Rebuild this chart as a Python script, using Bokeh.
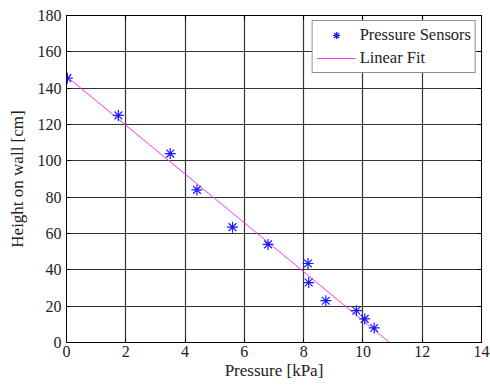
from bokeh.plotting import figure
from bokeh.models import Range1d, FixedTicker, LinearAxis, Legend, LegendItem
from bokeh.embed import file_html
from bokeh.resources import INLINE

# Data
pressure_kpa = [0.03, 1.75, 3.5, 4.4, 5.6, 6.8, 8.15, 8.17, 8.75, 9.78, 10.06, 10.38]
height_cm = [145.5, 125, 104, 84, 63.5, 54, 43.5, 33, 23, 17.5, 13, 8]
fit_x = [0.0, 10.9]
fit_y = [146.5, 0.0]
x_ticks = [0, 2, 4, 6, 8, 10, 12, 14]
y_ticks = [0, 20, 40, 60, 80, 100, 120, 140, 160, 180]

FONT = "'Liberation Serif', 'Times New Roman', serif"

p = figure(width=490, height=385, output_backend="svg", toolbar_location=None,
           x_range=Range1d(0, 14), y_range=Range1d(0, 180),
           min_border_left=66, min_border_right=9, min_border_top=15, min_border_bottom=43)
p.background_fill_color = "white"
p.border_fill_color = "white"
p.outline_line_color = "black"
p.outline_line_width = 1

for ax in (p.xaxis[0], p.yaxis[0]):
    ax.major_tick_in = 4
    ax.major_tick_out = 0
    ax.minor_tick_in = 0
    ax.minor_tick_out = 0
    ax.axis_line_color = "black"
    ax.major_label_text_font = FONT
    ax.major_label_text_font_size = "16px"
    ax.major_label_text_color = "#222222"
    ax.axis_label_text_font = FONT
    ax.axis_label_text_font_size = "17px"
    ax.axis_label_text_font_style = "normal"
    ax.axis_label_text_color = "#222222"

p.xaxis[0].ticker = FixedTicker(ticks=x_ticks)
p.yaxis[0].ticker = FixedTicker(ticks=y_ticks)
p.xaxis[0].axis_label = "Pressure [kPa]"
p.yaxis[0].axis_label = "Height on wall [cm]"
p.xaxis[0].major_label_standoff = 3
p.xaxis[0].axis_label_standoff = 1
p.yaxis[0].major_label_standoff = 5
p.yaxis[0].axis_label_standoff = 8

# top/right tick marks (MATLAB box style), no labels
top = LinearAxis(ticker=FixedTicker(ticks=x_ticks), major_tick_in=4, major_tick_out=0,
                 minor_tick_in=0, minor_tick_out=0, major_label_standoff=0,
                 major_label_overrides={t: "" for t in x_ticks})
right = LinearAxis(ticker=FixedTicker(ticks=y_ticks), major_tick_in=4, major_tick_out=0,
                   minor_tick_in=0, minor_tick_out=0, major_label_standoff=0,
                   major_label_overrides={t: "" for t in y_ticks})
p.add_layout(top, "above")
p.add_layout(right, "right")

p.xgrid.ticker = FixedTicker(ticks=x_ticks)
p.ygrid.ticker = FixedTicker(ticks=y_ticks)
for g in (p.xgrid[0], p.ygrid[0]):
    g.grid_line_color = "#333333"
    g.grid_line_width = 1.2

fit = p.line(fit_x, fit_y, line_color="#ff33ff", line_width=1)
pts = p.scatter(pressure_kpa, height_cm, marker="asterisk", size=11,
                line_color="#1a1aff", line_width=1.2)

legend = Legend(items=[LegendItem(label="Pressure Sensors", renderers=[pts]),
                       LegendItem(label="Linear Fit", renderers=[fit])],
                location="top_right")
legend.label_text_font = FONT
legend.label_text_font_size = "16.5px"
legend.label_text_color = "#222222"
legend.border_line_color = "#222222"
legend.border_line_width = 1
legend.background_fill_color = "white"
legend.background_fill_alpha = 1
legend.glyph_width = 39
legend.glyph_height = 18
legend.label_height = 18
legend.label_standoff = 4
legend.spacing = 3
legend.padding = 4
legend.margin = 5
p.add_layout(legend)

open("out.html", "w").write(file_html(p, INLINE))
